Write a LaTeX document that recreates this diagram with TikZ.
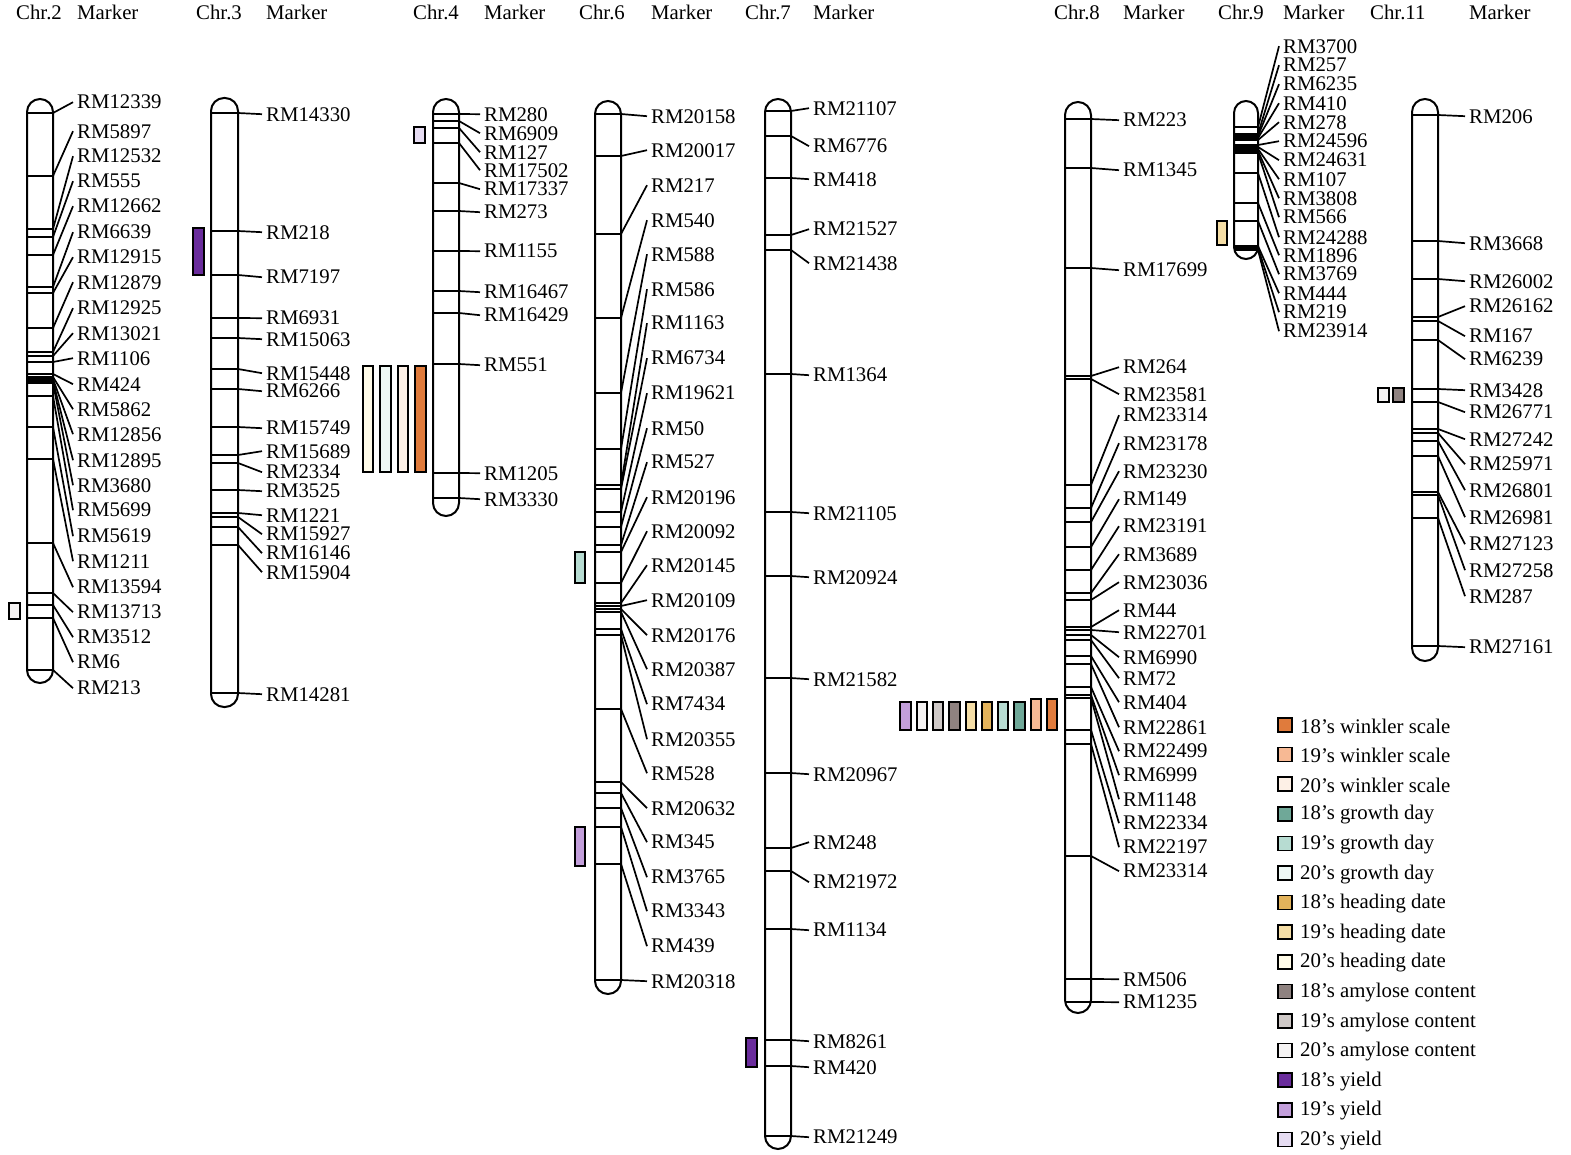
\documentclass[tikz,border=0pt]{standalone}
\usepackage{fontspec}
\setmainfont{Liberation Serif}
\definecolor{wA}{HTML}{E07B3C}
\definecolor{wB}{HTML}{F7B994}
\definecolor{wC}{HTML}{FDF0E6}
\definecolor{gA}{HTML}{6FA898}
\definecolor{gB}{HTML}{B7DCD2}
\definecolor{gC}{HTML}{EEF8F5}
\definecolor{hA}{HTML}{E3B35B}
\definecolor{hB}{HTML}{F5DEA6}
\definecolor{hC}{HTML}{FFFBE8}
\definecolor{aA}{HTML}{8F8280}
\definecolor{aB}{HTML}{CFC9C7}
\definecolor{aC}{HTML}{F5F3F3}
\definecolor{yA}{HTML}{6A2C9C}
\definecolor{yB}{HTML}{C39FDB}
\definecolor{yC}{HTML}{E6DCF2}
\newcommand{\lblfont}{\fontsize{20.8}{24}\selectfont}
\newcommand{\markers}[5]{%
  \foreach \b/\l/\t [count=\i] in {#5}{%
    \node[lbl] (#1-\i) at (#4,\l) {\t};
    \draw[band] (#2,\b) -- (#3,\b) -- ([xshift=-4pt]#1-\i.west);
  }}
\begin{document}
\begin{tikzpicture}[x=1pt,y=-1pt,
  lbl/.style={anchor=west,inner sep=0pt,font=\lblfont,yshift=-1.2pt},
  hdr/.style={anchor=west,inner sep=0pt,font=\lblfont},
  chr/.style={draw=black,line width=2pt,fill=white,rounded corners=13pt},
  band/.style={draw=black,line width=1.7pt},
  qtl/.style={draw=black,line width=1.7pt}]
\useasboundingbox (0,0) rectangle (1571,1155);
\fill[white] (0,0) rectangle (1571,1155);

% headers
\node[hdr] (h2) at (16,12) {Chr.2};   \node[hdr] (m2) at (77,12) {Marker};
\node[hdr] (h3) at (196,12) {Chr.3};  \node[hdr] (m3) at (266,12) {Marker};
\node[hdr] (h4) at (413,12) {Chr.4};  \node[hdr] (m4) at (484,12) {Marker};
\node[hdr] (h6) at (579,12) {Chr.6};  \node[hdr] (m6) at (651,12) {Marker};
\node[hdr] (h7) at (745,12) {Chr.7};  \node[hdr] (m7) at (813,12) {Marker};
\node[hdr] (h8) at (1054,12) {Chr.8}; \node[hdr] (m8) at (1123,12) {Marker};
\node[hdr] (h9) at (1218,12) {Chr.9}; \node[hdr] (m9) at (1283,12) {Marker};
\node[hdr] (h11) at (1370,12) {Chr.11}; \node[hdr] (m11) at (1469,12) {Marker};

% chromosomes
\draw[chr] (27,99) rectangle (53,683);
\draw[chr] (211,98) rectangle (238,707);
\draw[chr] (433,99) rectangle (459,516);
\draw[chr] (595,101) rectangle (621,994);
\draw[chr] (765,99) rectangle (791,1149);
\draw[chr] (1065,102) rectangle (1091,1013);
\draw[chr,rounded corners=12pt] (1234,101) rectangle (1258,259);
\draw[chr] (1412,99) rectangle (1438,661);

% Chr.2
\markers{c2}{27}{53}{77}{113/101/RM12339,176/130/RM5897,229/155/RM12532,237/180/RM555,255/205/RM12662,287/231/RM6639,293/256/RM12915,328/281/RM12879,352/307/RM12925,356/332/RM13021,362/357/RM1106,374/383/RM424,377/408/RM5862,379/433/RM12856,381/459/RM12895,383/484/RM3680,396/509/RM5699,427/535/RM5619,459/560/RM1211,543/586/RM13594,593/611/RM13713,605/636/RM3512,618/661/RM6,670/687/RM213}
% Chr.3
\markers{c3}{211}{238}{266}{113/113/RM14330,231/231/RM218,275/276/RM7197,318/317/RM6931,338/338/RM15063,369/372/RM15448,389/390/RM6266,427/427/RM15749,455/450/RM15689,463/471/RM2334,490/490/RM3525,513/514/RM1221,517/533/RM15927,527/552/RM16146,545/571/RM15904,693/693/RM14281}
% Chr.4
\markers{c4}{433}{459}{484}{114/113/RM280,121/132/RM6909,128/151/RM127,143/169/RM17502,183/188/RM17337,211/211/RM273,251/250/RM1155,291/291/RM16467,313/314/RM16429,364/364/RM551,473/472/RM1205,498/498/RM3330}
% Chr.6
\markers{c6}{595}{621}{651}{114/115/RM20158,156/149/RM20017,234/184/RM217,318/219/RM540,393/253/RM588,449/288/RM586,485/322/RM1163,489/357/RM6734,512/392/RM19621,527/427/RM50,545/461/RM527,552/496/RM20196,583/530/RM20092,603/564/RM20145,606/599/RM20109,609/634/RM20176,612/668/RM20387,629/703/RM7434,635/738/RM20355,709/772/RM528,782/807/RM20632,793/841/RM345,808/876/RM3765,827/910/RM3343,864/945/RM439,980/980/RM20318}
% Chr.7
\markers{c7}{765}{791}{813}{111/107/RM21107,136/145/RM6776,178/178/RM418,235/228/RM21527,250/262/RM21438,374/374/RM1364,512/512/RM21105,576/576/RM20924,678/678/RM21582,773/773/RM20967,848/841/RM248,871/881/RM21972,929/929/RM1134,1040/1040/RM8261,1066/1066/RM420,1136/1136/RM21249}
% Chr.8
\markers{c8}{1065}{1091}{1123}{119/119/RM223,168/169/RM1345,268/269/RM17699,376/366/RM264,379/393/RM23581,485/414/RM23314,508/442/RM23178,522/470/RM23230,547/498/RM149,570/525/RM23191,593/553/RM3689,600/581/RM23036,627/609/RM44,630/631/RM22701,635/656/RM6990,640/677/RM72,656/701/RM404,664/726/RM22861,687/750/RM22499,695/774/RM6999,698/798/RM1148,730/822/RM22334,744/846/RM22197,856/870/RM23314,979/978/RM506,1002/1001/RM1235}
% Chr.9
\markers{c9}{1234}{1258}{1283}{127/45/RM3700,134/64/RM257,136/83/RM6235,138/102/RM410,140/121/RM278,145/140/RM24596,147/159/RM24631,149/178/RM107,151/197/RM3808,153/216/RM566,173/236/RM24288,203/254/RM1896,221/273/RM3769,246/292/RM444,248/311/RM219,250/330/RM23914}
% Chr.11
\markers{c11}{1412}{1438}{1469}{115/115/RM206,241/242/RM3668,279/280/RM26002,317/305/RM26162,321/335/RM167,340/358/RM6239,389/389/RM3428,402/411/RM26771,429/438/RM27242,433/463/RM25971,441/489/RM26801,456/516/RM26981,492/543/RM27123,495/569/RM27258,518/595/RM287,646/646/RM27161}

% QTL boxes
\draw[qtl,fill=aC] (9,603) rectangle (20,619);
\draw[qtl,fill=yA] (193,228) rectangle (204,275);
\draw[qtl,fill=yC] (414,127) rectangle (425,143);
\draw[qtl,fill=hC] (363,366) rectangle (373,472);
\draw[qtl,fill=gC] (380,366) rectangle (391,472);
\draw[qtl,fill=wC] (398,366) rectangle (408,472);
\draw[qtl,fill=wA] (415,366) rectangle (426,472);
\draw[qtl,fill=gB] (575,552) rectangle (585,583);
\draw[qtl,fill=yB] (575,827) rectangle (585,866);
\draw[qtl,fill=yA] (746,1038) rectangle (757,1067);
\draw[qtl,fill=yB] (900,702) rectangle (911,730);
\draw[qtl,fill=aC] (917,702) rectangle (927,730);
\draw[qtl,fill=aB] (933,702) rectangle (943,730);
\draw[qtl,fill=aA] (949,702) rectangle (960,730);
\draw[qtl,fill=hB] (966,702) rectangle (976,730);
\draw[qtl,fill=hA] (982,702) rectangle (992,730);
\draw[qtl,fill=gB] (998,702) rectangle (1008,730);
\draw[qtl,fill=gA] (1014,702) rectangle (1025,730);
\draw[qtl,fill=wB] (1031,699) rectangle (1041,730);
\draw[qtl,fill=wA] (1047,699) rectangle (1057,730);
\draw[qtl,fill=hB] (1217,221) rectangle (1227,245);
\draw[qtl,fill=aC] (1378,388) rectangle (1389,402);
\draw[qtl,fill=aA] (1393,388) rectangle (1404,402);

% legend
\foreach \c/\t [count=\i] in {wA/18’s winkler scale,wB/19’s winkler scale,wC/20’s winkler scale,gA/18’s growth day,gB/19’s growth day,gC/20’s growth day,hA/18’s heading date,hB/19’s heading date,hC/20’s heading date,aA/18’s amylose content,aB/19’s amylose content,aC/20’s amylose content,yA/18’s yield,yB/19’s yield,yC/20’s yield}{%
  \pgfmathsetmacro{\yy}{725+(\i-1)*29.6}
  \draw[qtl,line width=1.5pt,fill=\c] (1278,\yy-7) rectangle (1292,\yy+7);
  \node[lbl] (leg-\i) at (1300,\yy) {\t};
}
\end{tikzpicture}
\end{document}
